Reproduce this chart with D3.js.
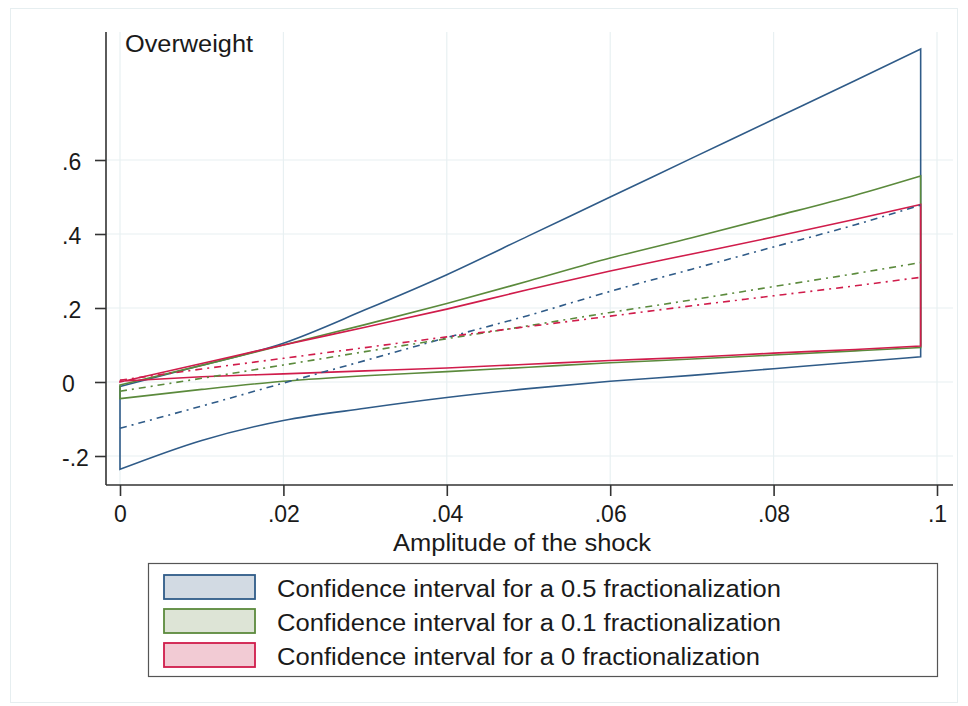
<!DOCTYPE html>
<html><head><meta charset="utf-8">
<script src="https://cdn.jsdelivr.net/npm/d3@7"></script>
<style>body{margin:0;background:#fff;} text{font-family:"Liberation Sans",Arial,sans-serif;fill:#1a1a1a;}</style>
</head><body>
<svg id="c" width="968" height="706"></svg>
<script>
const xs = [0, 0.01, 0.02, 0.03, 0.04, 0.05, 0.06, 0.07, 0.08, 0.09, 0.098];
const blueUpper = [-0.012, 0.045, 0.105, 0.195, 0.29, 0.395, 0.50, 0.605, 0.71, 0.815, 0.90];
const blueLower = [-0.236, -0.158, -0.104, -0.071, -0.042, -0.018, 0.002, 0.018, 0.036, 0.054, 0.068];
const blueMid   = [-0.125, -0.065, -0.003, 0.058, 0.12, 0.18, 0.245, 0.305, 0.365, 0.425, 0.478];
const greenUpper = [-0.008, 0.045, 0.10, 0.155, 0.212, 0.273, 0.335, 0.39, 0.447, 0.505, 0.557];
const greenLower = [-0.045, -0.02, 0.002, 0.017, 0.028, 0.04, 0.052, 0.062, 0.073, 0.084, 0.093];
const greenMid   = [-0.025, 0.01, 0.046, 0.082, 0.117, 0.152, 0.188, 0.222, 0.258, 0.293, 0.323];
const redUpper = [0.0, 0.05, 0.10, 0.148, 0.197, 0.25, 0.30, 0.346, 0.392, 0.44, 0.48];
const redLower = [0.002, 0.014, 0.022, 0.03, 0.038, 0.048, 0.058, 0.067, 0.078, 0.088, 0.097];
const redMid   = [0.005, 0.035, 0.064, 0.093, 0.122, 0.15, 0.178, 0.206, 0.233, 0.26, 0.283];
const xTicks = [0, 0.02, 0.04, 0.06, 0.08, 0.1];
const xTickLabels = ["0", ".02", ".04", ".06", ".08", ".1"];
const yTicks = [-0.2, 0, 0.2, 0.4, 0.6];
const yTickLabels = ["-.2", "0", ".2", ".4", ".6"];
const legendLabels = ["Confidence interval for a 0.5 fractionalization",
                      "Confidence interval for a 0.1 fractionalization",
                      "Confidence interval for a 0 fractionalization"];
const lineColors = ["#2f5b88", "#5b8a3c", "#d01c4b"];
const fillColors = ["#d2dae3", "#dde4d6", "#f2cbd4"];

const svg = d3.select("#c");
const x = d3.scaleLinear().domain([0, 0.1]).range([120, 937]);
const y = d3.scaleLinear().domain([-0.2, 0.6]).range([456, 160]);
const plotTop = 32, plotBottom = 485, plotLeft = 106, plotRight = 953;

// outer frame
svg.append("rect").attr("x", 10.5).attr("y", 8.5).attr("width", 947).attr("height", 694)
  .attr("fill", "none").attr("stroke", "#e6eef0").attr("stroke-width", 1);

// gridlines
const grid = svg.append("g").attr("stroke", "#e8f0f2").attr("stroke-width", 1.2);
xTicks.forEach(t => grid.append("line").attr("x1", x(t)).attr("x2", x(t)).attr("y1", plotTop).attr("y2", plotBottom));
yTicks.forEach(t => grid.append("line").attr("x1", plotLeft).attr("x2", plotRight).attr("y1", y(t)).attr("y2", y(t)));

// axes
const xAxis = d3.axisBottom(x).tickValues(xTicks).tickFormat((d, i) => xTickLabels[i]).tickSize(11).tickPadding(10);
const gx = svg.append("g").attr("transform", `translate(0,${plotBottom})`).call(xAxis);
gx.select(".domain").remove();
gx.append("line").attr("x1", plotLeft).attr("x2", plotRight).attr("stroke", "#333").attr("stroke-width", 1.6);
gx.selectAll(".tick line").attr("stroke", "#333").attr("stroke-width", 1.6);
gx.selectAll(".tick text").attr("font-size", 23).attr("fill", "#1a1a1a").attr("font-family", "Liberation Sans, Arial, sans-serif");

const yAxis = d3.axisLeft(y).tickValues(yTicks).tickFormat((d, i) => yTickLabels[i]).tickSize(11);
const gy = svg.append("g").attr("transform", `translate(${plotLeft},0)`).call(yAxis);
gy.select(".domain").remove();
gy.append("line").attr("y1", plotTop).attr("y2", plotBottom).attr("stroke", "#333").attr("stroke-width", 1.6);
gy.selectAll(".tick line").attr("stroke", "#333").attr("stroke-width", 1.6);
gy.selectAll(".tick text").attr("font-size", 23).attr("fill", "#1a1a1a")
  .attr("font-family", "Liberation Sans, Arial, sans-serif")
  .attr("text-anchor", "start").attr("x", 62 - plotLeft).attr("dy", "0.4em");

// CI polygons (outlined areas)
const bands = [[blueUpper, blueLower], [greenUpper, greenLower], [redUpper, redLower]];
const mids = [blueMid, greenMid, redMid];
const area = d3.area().x(d => x(d.x)).y0(d => y(d.lo)).y1(d => y(d.hi)).curve(d3.curveMonotoneX);
const line = d3.line().x(d => x(d[0])).y(d => y(d[1])).curve(d3.curveMonotoneX);
bands.forEach((b, k) => {
  const pts = xs.map((v, i) => ({x: v, hi: b[0][i], lo: b[1][i]}));
  svg.append("path").attr("d", area(pts)).attr("fill", "none")
    .attr("stroke", lineColors[k]).attr("stroke-width", 1.6).attr("stroke-linejoin", "miter");
});
mids.forEach((m, k) => {
  svg.append("path").attr("d", line(xs.map((v, i) => [v, m[i]]))).attr("fill", "none")
    .attr("stroke", lineColors[k]).attr("stroke-width", 1.6).attr("stroke-dasharray", "7,5,2,5");
});

// plot label
svg.append("text").attr("x", 125).attr("y", 52).attr("font-size", 23)
  .attr("textLength", 128).attr("lengthAdjust", "spacingAndGlyphs").text("Overweight");

// x axis title
svg.append("text").attr("x", 522).attr("y", 551).attr("text-anchor", "middle")
  .attr("font-size", 23).attr("textLength", 258).attr("lengthAdjust", "spacingAndGlyphs").text("Amplitude of the shock");

// legend
svg.append("rect").attr("x", 148.5).attr("y", 563.5).attr("width", 789).attr("height", 113)
  .attr("fill", "#fff").attr("stroke", "#555").attr("stroke-width", 1.2);
const rowY = [575, 609, 643];
const legendWidths = [504, 504, 483];
legendLabels.forEach((lab, k) => {
  svg.append("rect").attr("x", 164).attr("y", rowY[k]).attr("width", 91).attr("height", 24)
    .attr("fill", fillColors[k]).attr("stroke", lineColors[k]).attr("stroke-width", 1.8);
  svg.append("text").attr("x", 277).attr("y", rowY[k] + 22).attr("font-size", 23)
    .attr("textLength", legendWidths[k]).attr("lengthAdjust", "spacingAndGlyphs").text(lab);
});
</script>
</body></html>
